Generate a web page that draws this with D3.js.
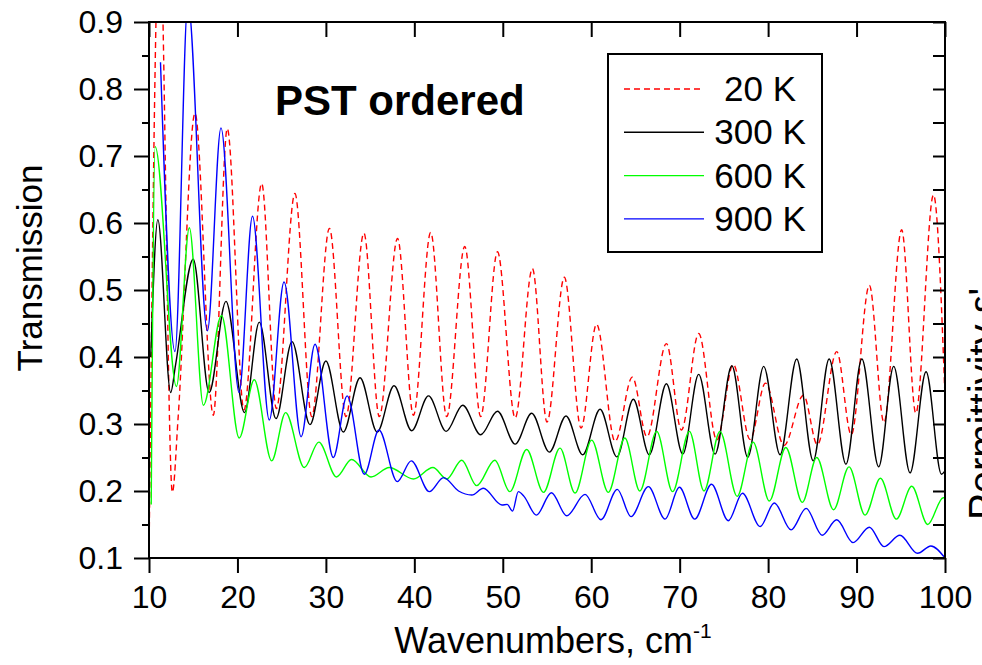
<!DOCTYPE html>
<html lang="en">
  <head>
    <meta charset="utf-8">
    <title>PST ordered transmission</title>
    <script src="https://cdn.jsdelivr.net/npm/d3@7"></script>
    <style>
      body { margin: 0; background: #fff; }
      svg { display: block; font-family: "Liberation Sans", Arial, sans-serif; }
    </style>
  </head>
  <body>
    <div id="chart"></div>
  </body>
</html>

<script>

// 20 K (red dashed)
const wn20 = [10.0, 11.2, 12.64, 13.3, 15.2, 17.27, 18.85, 20.74, 22.74, 24.4, 26.5, 28.4, 30.4, 32.27, 34.3, 36.04, 38.1, 39.9, 41.85, 43.66, 45.7, 47.5, 49.4, 51.4, 53.35, 55.0, 56.96, 58.85, 60.6, 62.7, 64.65, 66.3, 68.5, 70.2, 72.15, 74.2, 76.06, 77.96, 79.7, 81.8, 84.0, 85.57, 87.76, 89.4, 91.45, 93.1, 95.1, 96.7, 98.7, 100];
const tr20 = [0.10, 1.05, 0.198, 0.311, 0.764, 0.313, 0.741, 0.321, 0.659, 0.323, 0.644, 0.311, 0.592, 0.311, 0.585, 0.311, 0.577, 0.313, 0.586, 0.311, 0.565, 0.311, 0.557, 0.309, 0.532, 0.303, 0.519, 0.294, 0.449, 0.274, 0.37, 0.281, 0.42, 0.291, 0.435, 0.276, 0.389, 0.277, 0.361, 0.268, 0.343, 0.269, 0.408, 0.284, 0.507, 0.302, 0.59, 0.316, 0.642, 0.34];

// 300 K (black)
const wn300 = [10.2, 11.0, 12.45, 13.0, 15.0, 16.8, 18.7, 20.8, 22.47, 24.36, 26.17, 28.2, 30.0, 31.97, 33.86, 35.8, 37.7, 39.7, 41.6, 43.6, 45.47, 47.5, 49.4, 51.4, 53.27, 55.27, 57.15, 59.04, 61.0, 62.9, 64.76, 66.57, 68.5, 70.35, 72.15, 74.0, 75.9, 77.7, 79.5, 81.35, 83.23, 85.1, 86.9, 88.8, 90.6, 92.5, 94.2, 96.05, 97.86, 99.6, 100];
const tr300 = [0.40, 0.605, 0.347, 0.388, 0.546, 0.347, 0.483, 0.317, 0.452, 0.308, 0.423, 0.299, 0.394, 0.288, 0.369, 0.288, 0.357, 0.29, 0.342, 0.289, 0.328, 0.284, 0.319, 0.27, 0.316, 0.258, 0.312, 0.254, 0.322, 0.251, 0.337, 0.254, 0.36, 0.255, 0.374, 0.255, 0.387, 0.25, 0.386, 0.254, 0.397, 0.245, 0.397, 0.24, 0.397, 0.236, 0.386, 0.227, 0.378, 0.225, 0.23];

// 600 K (green)
const wn600 = [10.25, 10.7, 13.1, 14.56, 16.15, 18.2, 20.2, 21.9, 23.87, 25.45, 27.56, 29.2, 31.2, 32.9, 35.1, 37.17, 39.9, 42.1, 43.66, 45.36, 47.05, 49.1, 50.8, 52.7, 54.6, 56.47, 58.17, 60.05, 61.93, 63.8, 65.5, 67.4, 69.2, 71.1, 72.75, 74.56, 76.5, 78.3, 80.14, 82.0, 83.87, 85.5, 87.4, 89.15, 90.96, 92.7, 94.5, 96.24, 98.05, 99.8, 100];
const tr600 = [0.18, 0.714, 0.356, 0.593, 0.328, 0.462, 0.279, 0.366, 0.245, 0.317, 0.235, 0.273, 0.221, 0.247, 0.221, 0.235, 0.218, 0.235, 0.218, 0.246, 0.208, 0.246, 0.199, 0.262, 0.198, 0.264, 0.197, 0.276, 0.198, 0.279, 0.2, 0.289, 0.199, 0.289, 0.2, 0.289, 0.192, 0.273, 0.185, 0.265, 0.183, 0.25, 0.172, 0.236, 0.164, 0.219, 0.158, 0.207, 0.15, 0.19, 0.19];

// 900 K (blue)
const wn900 = [11.3, 12.94, 14.4, 16.6, 18.14, 20.18, 21.7, 23.6, 25.27, 27.2, 28.77, 30.84, 32.4, 34.35, 36.0, 38.07, 39.65, 41.7, 43.3, 45.0, 46.5, 47.8, 49.9, 50.5, 51.1, 51.76, 52.4, 53.8, 55.5, 57.23, 59.3, 61.1, 62.95, 64.5, 66.46, 68.35, 69.97, 71.7, 73.6, 75.5, 77.1, 79.1, 80.7, 82.6, 84.3, 86.1, 87.76, 89.6, 91.45, 93.1, 94.9, 96.9, 98.4, 100];
const tr900 = [0.84, 0.408, 0.93, 0.439, 0.742, 0.347, 0.61, 0.306, 0.512, 0.281, 0.419, 0.25, 0.342, 0.225, 0.291, 0.214, 0.245, 0.199, 0.22, 0.2, 0.194, 0.204, 0.179, 0.18, 0.17, 0.199, 0.192, 0.164, 0.1975, 0.163, 0.195, 0.157, 0.2025, 0.1617, 0.2065, 0.158, 0.2055, 0.158, 0.21, 0.1557, 0.1966, 0.147, 0.182, 0.142, 0.174, 0.134, 0.157, 0.123, 0.146, 0.117, 0.134, 0.107, 0.118, 0.1];

const xTicks = [10, 20, 30, 40, 50, 60, 70, 80, 90, 100];
const yTicks = [0.1, 0.2, 0.3, 0.4, 0.5, 0.6, 0.7, 0.8, 0.9];
const yMinor = d3.range(0.15, 0.9, 0.1);

const series = [
  {name: "20 K", x: wn20, y: tr20, color: "#ff0000", dash: "6,4"},
  {name: "300 K", x: wn300, y: tr300, color: "#000000", dash: null},
  {name: "600 K", x: wn600, y: tr600, color: "#00ff00", dash: null},
  {name: "900 K", x: wn900, y: tr900, color: "#0000ff", dash: null}
];

const width = 982;
const height = 665;
const margin = {top: 22, right: 37, bottom: 107, left: 149};
const w = width - margin.left - margin.right;
const h = height - margin.top - margin.bottom;

const svg = d3.select("#chart")
  .append("svg")
  .attr("width", width)
  .attr("height", height);

const x = d3.scaleLinear().domain([10, 100]).range([0, w]);
const y = d3.scaleLinear().domain([0.1, 0.9]).range([h, 0]);

const g = svg.append("g")
  .attr("transform", `translate(${margin.left},${margin.top})`);

g.append("clipPath")
  .attr("id", "clip")
  .append("rect")
  .attr("width", w)
  .attr("height", h);

const line = d3.line()
  .x(d => x(d[0]))
  .y(d => y(d[1]))
  .curve(d3.curveMonotoneX);

g.append("g")
  .attr("clip-path", "url(#clip)")
  .selectAll("path")
  .data(series)
  .join("path")
  .attr("d", s => line(s.x.map((v, i) => [v, s.y[i]])))
  .style("fill", "none")
  .style("stroke", s => s.color)
  .style("stroke-width", 1.4)
  .style("stroke-dasharray", s => s.dash);

// axes
const styleAxis = sel => {
  sel.select(".domain").remove();
  sel.selectAll("line").style("stroke", "#000").style("stroke-width", 2);
  sel.selectAll("text").style("font-size", "32px").style("fill", "#000");
};

g.append("g")
  .attr("transform", `translate(0,${h})`)
  .call(d3.axisBottom(x).tickValues(xTicks).tickSize(15).tickPadding(12))
  .call(styleAxis);

g.append("g")
  .call(d3.axisTop(x).tickValues(xTicks).tickSize(-15).tickFormat(""))
  .call(styleAxis);

g.append("g")
  .call(d3.axisLeft(y).tickValues(yTicks).tickSize(15).tickPadding(11).tickFormat(d3.format(".1f")))
  .call(styleAxis);

g.append("g")
  .call(d3.axisLeft(y).tickValues(yMinor).tickSize(7).tickFormat(""))
  .call(styleAxis);

g.append("g")
  .attr("transform", `translate(${w},0)`)
  .call(d3.axisRight(y).tickValues(yTicks.concat(yMinor)).tickSize(-12).tickFormat(""))
  .call(styleAxis);

g.append("rect")
  .attr("width", w)
  .attr("height", h)
  .style("fill", "none")
  .style("stroke", "#000")
  .style("stroke-width", 2);

// titles
svg.append("text")
  .attr("transform", "translate(42,268) rotate(-90)")
  .attr("text-anchor", "middle")
  .style("font-size", "35px")
  .text("Transmission");

const xt = svg.append("text")
  .attr("x", 553)
  .attr("y", 653)
  .attr("text-anchor", "middle")
  .style("font-size", "36px");
xt.append("tspan").text("Wavenumbers, cm");
xt.append("tspan")
  .attr("dy", -15)
  .style("font-size", "21px")
  .text("-1");

svg.append("text")
  .attr("transform", "translate(997,520) rotate(-90)")
  .style("font-size", "40px")
  .text("Permittivity \u03b5'");

svg.append("text")
  .attr("x", 275)
  .attr("y", 115)
  .style("font-size", "42px")
  .style("font-weight", "bold")
  .text("PST ordered");

// legend
const legend = svg.append("g");

legend.append("rect")
  .attr("x", 608)
  .attr("y", 54)
  .attr("width", 214)
  .attr("height", 198)
  .style("fill", "#fff")
  .style("stroke", "#000")
  .style("stroke-width", 2);

const rows = legend.selectAll(".row")
  .data(series)
  .join("g")
  .attr("class", "row")
  .attr("transform", (d, i) => `translate(0,${89 + i * 43.3})`);

rows.append("line")
  .attr("x1", 624)
  .attr("x2", 704)
  .style("stroke", d => d.color)
  .style("stroke-width", 1.4)
  .style("stroke-dasharray", d => d.dash);

rows.append("text")
  .attr("x", 760)
  .attr("y", 12)
  .attr("text-anchor", "middle")
  .style("font-size", "35px")
  .text(d => d.name);

</script>
